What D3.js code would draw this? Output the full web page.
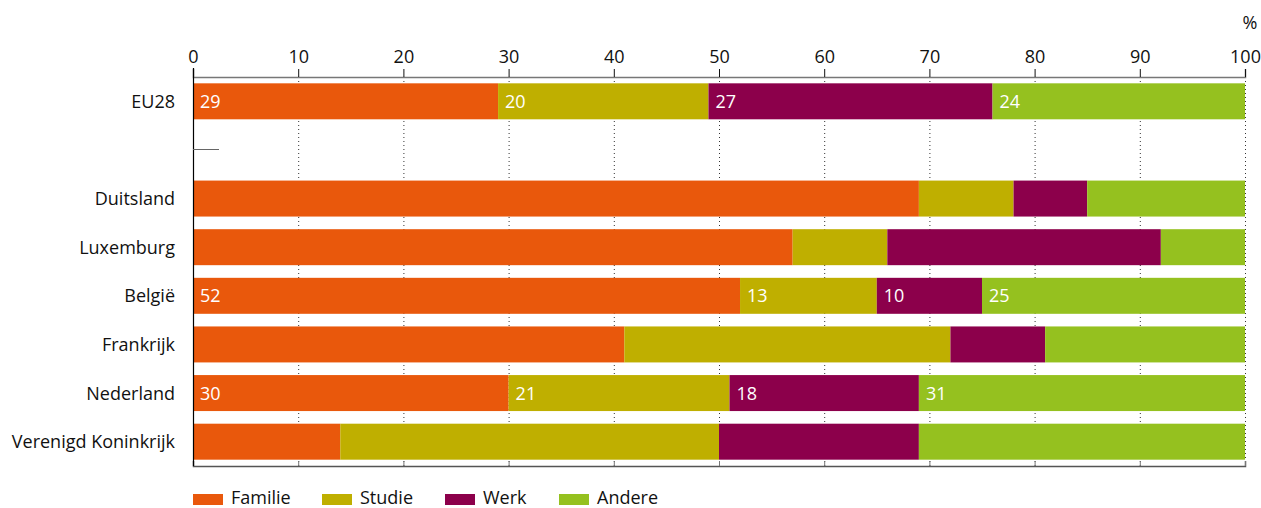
<!DOCTYPE html>
<html><head><meta charset="utf-8">
<script src="https://cdn.jsdelivr.net/npm/d3@7"></script>
<style>body{margin:0;background:#fff}svg text{font-family:"Open Sans",sans-serif}</style>
</head><body><svg id="c" width="1261" height="508"></svg>
<script>
const categories = ["EU28","","Duitsland","Luxemburg","België","Frankrijk","Nederland","Verenigd Koninkrijk"];
const seriesNames = ["Familie","Studie","Werk","Andere"];
const familie = [29,null,69,57,52,41,30,14];
const studie  = [20,null,9,9,13,31,21,36];
const werk    = [27,null,7,26,10,9,18,19];
const andere  = [24,null,15,8,25,19,31,31];
const showLabels = [true,false,false,false,true,false,true,false];
const colors = ["#E9580C","#BFAF00","#8C004B","#95C11F"];
const xTicks = [0,10,20,30,40,50,60,70,80,90,100];

const FS = 18;
const svg = d3.select("#c");
const x = d3.scaleLinear().domain([0,100]).range([193,1245]);
const y = d3.scaleBand().domain(categories.map((c,i)=>i)).range([77,466]).paddingInner(0.26).paddingOuter(0.13);

// gridlines
svg.append("g").selectAll("line").data(xTicks.slice(1)).join("line")
  .attr("x1",d=>x(d)+0.5).attr("x2",d=>x(d)+0.5).attr("y1",77).attr("y2",466)
  .attr("stroke","#333").attr("stroke-width",1).attr("stroke-dasharray","1,3");

const data = [familie,studie,werk,andere];
const rows = categories.map((c,i)=>({i, vals:data.map(s=>s[i])})).filter(r=>r.vals[0]!=null);
const g = svg.append("g");
rows.forEach(r=>{
  let acc=0;
  r.vals.forEach((v,k)=>{
    g.append("rect").attr("x",x(acc)).attr("width",x(acc+v)-x(acc))
     .attr("y",y(r.i)).attr("height",y.bandwidth()).attr("fill",colors[k]);
    if(showLabels[r.i]){
      g.append("text").attr("x",x(acc)+7).attr("y",y(r.i)+y.bandwidth()/2).attr("dy","0.36em")
       .attr("fill","#fff").attr("font-size",FS).text(v);
    }
    acc+=v;
  });
});

// top axis
const ax = svg.append("g").attr("transform","translate(0,77)")
  .call(d3.axisTop(x).tickValues(xTicks).tickSize(8).tickPadding(6).tickFormat(d3.format("d")));
ax.select(".domain").attr("stroke","#777").attr("stroke-width",1.5);
ax.selectAll(".tick line").attr("stroke","#111");
ax.selectAll("text").attr("font-size",FS).attr("fill","#111").attr("font-family","Open Sans");

// bottom axis
const bx = svg.append("g").attr("transform","translate(0,466)")
  .call(d3.axisBottom(x).tickValues(xTicks).tickSize(-5).tickFormat(""));
bx.select(".domain").attr("stroke","#555").attr("stroke-width",1.5);
bx.selectAll(".tick line").attr("stroke","#777");

// left axis
svg.append("line").attr("x1",193.5).attr("x2",193.5).attr("y1",68).attr("y2",466).attr("stroke","#000").attr("stroke-width",1.2);
// separator
svg.append("line").attr("x1",193).attr("x2",219).attr("y1",149.5).attr("y2",149.5).attr("stroke","#666").attr("stroke-width",1);

// category labels
svg.append("g").selectAll("text").data(categories.map((c,i)=>({c,i})).filter(d=>d.c)).join("text")
  .attr("x",175).attr("y",d=>y(d.i)+y.bandwidth()/2).attr("dy","0.36em").attr("text-anchor","end")
  .attr("font-size",FS).attr("fill","#111").text(d=>d.c);

// percent
svg.append("text").attr("x",1250).attr("y",29).attr("text-anchor","middle").attr("font-size",FS).attr("fill","#111").text("%");

// legend
const legX = [193,322,445,559];
const lg = svg.append("g");
seriesNames.forEach((s,k)=>{
  lg.append("rect").attr("x",legX[k]).attr("y",494).attr("width",30).attr("height",11).attr("fill",colors[k]);
  lg.append("text").attr("x",legX[k]+38).attr("y",498).attr("dy","0.36em").attr("font-size",FS).attr("fill","#111").text(s);
});
</script></body></html>
